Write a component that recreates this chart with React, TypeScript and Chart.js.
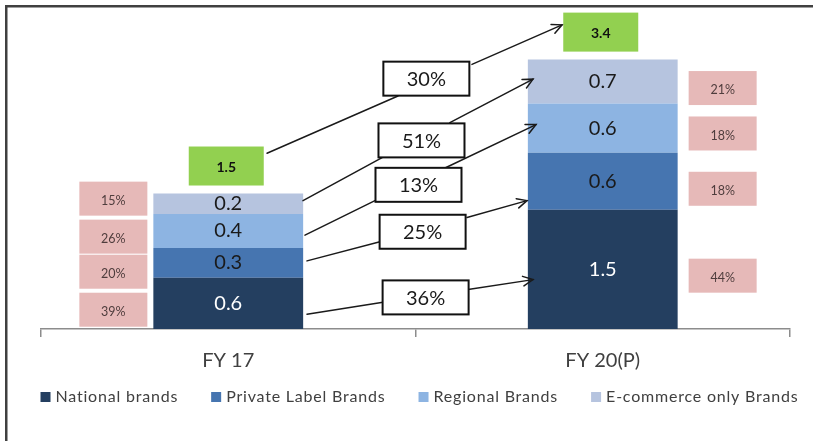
import React, { useEffect, useRef } from 'react';
import { Chart, registerables } from 'chart.js';

Chart.register(...registerables);

// ---------- data ----------
const categories = ['FY 17', 'FY 20(P)'];
const seriesNames = ['National brands', 'Private Label Brands', 'Regional Brands', 'E-commerce only Brands'];
// segment heights as drawn in the picture
const nationalBrands = [0.65, 1.51];
const privateLabelBrands = [0.375, 0.72];
const regionalBrands = [0.43, 0.625];
const ecommerceBrands = [0.26, 0.555];
// printed segment labels
const nationalLabels = ['0.6', '1.5'];
const privateLabels = ['0.3', '0.6'];
const regionalLabels = ['0.4', '0.6'];
const ecommerceLabels = ['0.2', '0.7'];
const totalLabels = ['1.5', '3.4'];
// share boxes (bottom to top: national, private, regional, e-commerce)
const shareFY17 = ['39%', '20%', '26%', '15%'];
const shareFY20 = ['44%', '18%', '18%', '21%'];
// growth boxes: national, private, regional, e-commerce, total
const cagrLabels = ['36%', '25%', '13%', '51%', '30%'];

// ---------- annotation geometry (in scale units: x = category index, y = value) ----------
const shareBoxY17 = [0.244, 0.725, 1.169, 1.65];
const shareBoxY20 = [0.675, 1.775, 2.475, 3.05];
const cagrBoxX = [0.527, 0.519, 0.508, 0.516, 0.529];
const cagrBoxY = [0.4, 1.231, 1.825, 2.3875, 3.169];
const legInFrom = [[0.2103, 0.1875], [0.2103, 0.8625], [0.2049, 1.1875], [0.1996, 1.625], [0.1035, 2.225]];
const legInTo = [[0.4132, 0.3375], [0.4025, 1.1], [0.3918, 1.625], [0.4132, 2.175], [0.4532, 2.95]];
const legOutFrom = [[0.6402, 0.5], [0.6375, 1.4125], [0.5788, 2.0375], [0.5918, 2.6125], [0.6508, 3.35]];
const legOutTo = [[0.8138, 0.625], [0.7978, 1.625], [0.8218, 2.5875], [0.8138, 3.1625], [0.8913, 3.85]];

const COLORS = ['#243F60', '#4675B0', '#8DB4E2', '#B6C4DF'];
const LABEL_COLORS = ['#ffffff', '#1a1a1a', '#1a1a1a', '#1a1a1a'];
const FONT = 'Lato, "Liberation Sans", "Noto Sans", sans-serif';

const segmentLabels = [nationalLabels, privateLabels, regionalLabels, ecommerceLabels];

const annotationPlugin = {
  id: 'customAnnotations',
  beforeDraw(chart: any) {
    const { ctx, width, height } = chart;
    ctx.save();
    ctx.fillStyle = '#ffffff';
    ctx.fillRect(0, 0, width, height);
    ctx.fillStyle = '#404040';
    ctx.fillRect(5, 5, 2.5, height - 5);
    ctx.fillRect(5, 5, width - 5, 2.5);
    ctx.restore();
  },
  afterDatasetsDraw(chart: any) {
    const { ctx } = chart;
    const xs = chart.scales.x;
    const ys = chart.scales.y;
    const px = (v: number) => xs.getPixelForValue(v);
    const py = (v: number) => ys.getPixelForValue(v);
    ctx.save();

    // segment value labels
    segmentLabels.forEach((labels, di) => {
      const meta = chart.getDatasetMeta(di);
      meta.data.forEach((el: any, i: number) => {
        ctx.font = `20px ${FONT}`;
        ctx.fillStyle = LABEL_COLORS[di];
        ctx.textAlign = 'center';
        ctx.textBaseline = 'middle';
        ctx.fillText(labels[i], el.x, (el.y + el.base) / 2);
      });
    });

    // total boxes
    const topMeta = chart.getDatasetMeta(3);
    topMeta.data.forEach((el: any, i: number) => {
      const w = 75, h = 39;
      const x = el.x - w / 2 - 2;
      const y = el.y - 8 - h;
      ctx.fillStyle = '#92D050';
      ctx.fillRect(x, y, w, h);
      ctx.fillStyle = '#111111';
      ctx.font = `bold 14px ${FONT}`;
      ctx.textAlign = 'center';
      ctx.textBaseline = 'middle';
      ctx.fillText(totalLabels[i], x + w / 2, y + h / 2 + 1);
    });

    // share boxes
    const baseMeta = chart.getDatasetMeta(0);
    const bar0: any = baseMeta.data[0];
    const bar1: any = baseMeta.data[1];
    const drawShare = (xLeft: number, yc: number, text: string) => {
      const w = 68, h = 34;
      ctx.fillStyle = '#E6B9B8';
      ctx.fillRect(xLeft, yc - h / 2, w, h);
      ctx.fillStyle = '#4f3d3d';
      ctx.font = `12.5px ${FONT}`;
      ctx.textAlign = 'center';
      ctx.textBaseline = 'middle';
      ctx.fillText(text, xLeft + w / 2, yc + 2);
    };
    shareFY17.forEach((t, i) => drawShare(bar0.x - bar0.width / 2 - 6 - 68, py(shareBoxY17[i]), t));
    shareFY20.forEach((t, i) => drawShare(bar1.x + bar1.width / 2 + 11, py(shareBoxY20[i]), t));

    // connector lines
    ctx.strokeStyle = '#1a1a1a';
    ctx.lineWidth = 1.5;
    ctx.lineCap = 'round';
    const line = (a: number[], b: number[], arrow: boolean) => {
      const x1 = px(a[0]), y1 = py(a[1]), x2 = px(b[0]), y2 = py(b[1]);
      ctx.beginPath();
      ctx.moveTo(x1, y1);
      ctx.lineTo(x2, y2);
      ctx.stroke();
      if (arrow) {
        const ang = Math.atan2(y2 - y1, x2 - x1);
        const len = 11;
        ctx.beginPath();
        ctx.moveTo(x2 - len * Math.cos(ang - 0.45), y2 - len * Math.sin(ang - 0.45));
        ctx.lineTo(x2, y2);
        ctx.lineTo(x2 - len * Math.cos(ang + 0.45), y2 - len * Math.sin(ang + 0.45));
        ctx.stroke();
      }
    };
    cagrLabels.forEach((_, i) => {
      line(legInFrom[i], legInTo[i], false);
      line(legOutFrom[i], legOutTo[i], true);
    });

    // growth boxes
    cagrLabels.forEach((t, i) => {
      const w = 86, h = 34;
      const cx = px(cagrBoxX[i]);
      const cy = py(cagrBoxY[i]);
      ctx.fillStyle = '#ffffff';
      ctx.fillRect(cx - w / 2, cy - h / 2, w, h);
      ctx.strokeStyle = '#111111';
      ctx.lineWidth = 2;
      ctx.strokeRect(cx - w / 2, cy - h / 2, w, h);
      ctx.fillStyle = '#1a1a1a';
      ctx.font = `20px ${FONT}`;
      ctx.textAlign = 'center';
      ctx.textBaseline = 'middle';
      ctx.fillText(t, cx, cy + 1);
    });

    // legend
    const legendY = 397;
    ctx.font = `16px ${FONT}`;
    try { (ctx as any).letterSpacing = '0.8px'; } catch (e) { /* ignore */ }
    const gap = 33;
    const widths = seriesNames.map((n) => 15 + ctx.measureText(n).width);
    const total = widths.reduce((a, b) => a + b, 0) + gap * (widths.length - 1);
    let lx = (chart.chartArea.left + chart.chartArea.right) / 2 + 4 - total / 2;
    seriesNames.forEach((n, i) => {
      ctx.fillStyle = COLORS[i];
      ctx.fillRect(lx, legendY - 5, 10, 10);
      ctx.fillStyle = '#404040';
      ctx.textAlign = 'left';
      ctx.textBaseline = 'middle';
      ctx.fillText(n, lx + 15, legendY);
      lx += widths[i] + gap;
    });
    try { (ctx as any).letterSpacing = '0px'; } catch (e) { /* ignore */ }

    ctx.restore();
  },
};

export default function App() {
  const canvasRef = useRef<HTMLCanvasElement | null>(null);

  useEffect(() => {
    if (!canvasRef.current) return;
    const seriesData = [nationalBrands, privateLabelBrands, regionalBrands, ecommerceBrands];
    const chart = new Chart(canvasRef.current, {
      type: 'bar',
      data: {
        labels: categories,
        datasets: seriesNames.map((name, i) => ({
          label: name,
          data: seriesData[i],
          backgroundColor: COLORS[i],
          borderWidth: 0,
          categoryPercentage: 1,
          barPercentage: 0.4,
        })),
      },
      options: {
        animation: false,
        responsive: true,
        maintainAspectRatio: false,
        layout: { padding: { left: 41, right: 23, top: 13, bottom: 56 } },
        plugins: {
          legend: { display: false },
          tooltip: { enabled: false },
        },
        scales: {
          x: {
            stacked: true,
            grid: {
              display: true,
              drawOnChartArea: false,
              drawTicks: true,
              tickLength: 8,
              color: '#8c8c8c',
              lineWidth: 1.5,
              offset: true,
            },
            border: { display: true, color: '#8c8c8c', width: 1.5 },
            ticks: {
              color: '#404040',
              font: { size: 20, family: FONT },
              padding: 12,
            },
          },
          y: {
            stacked: true,
            display: false,
            min: 0,
            max: 4,
          },
        },
      },
      plugins: [annotationPlugin],
    });
    return () => chart.destroy();
  }, []);

  return (
    <div style={{ position: 'absolute', left: 0, top: 0, width: 813, height: 441 }}>
      <canvas ref={canvasRef} />
    </div>
  );
}
